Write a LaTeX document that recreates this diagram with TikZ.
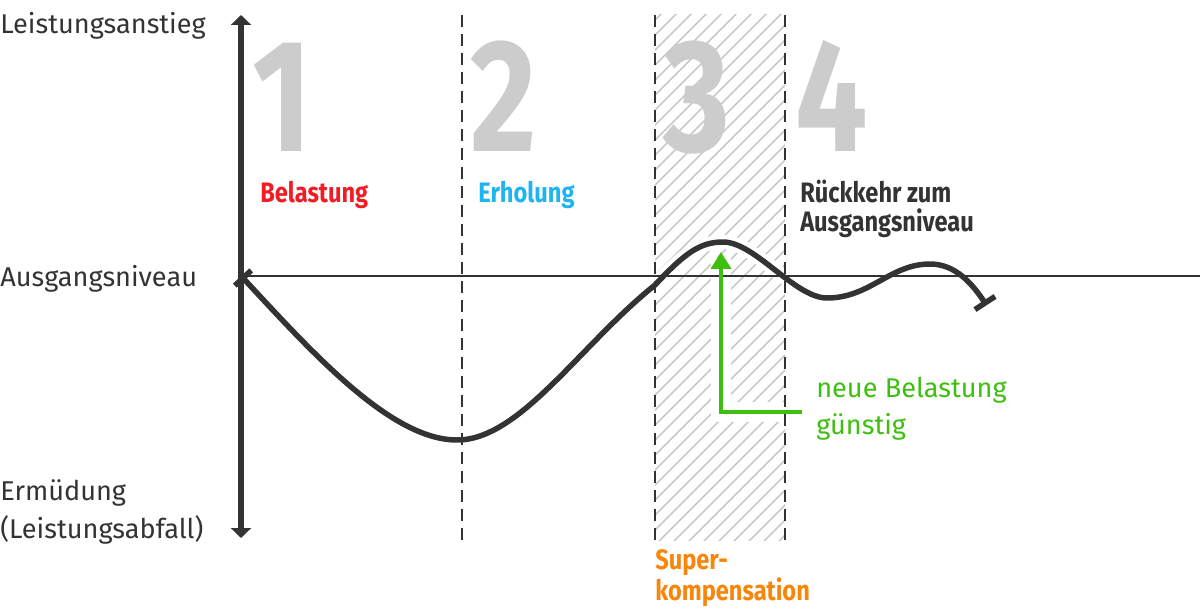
\documentclass[tikz,border=0pt]{standalone}
\usepackage{fontspec}
\setmainfont{Fira Sans}
\newfontfamily\condbold{Fira Sans}[FakeStretch=0.84]
\newfontfamily\numbold{Fira Sans}[FakeStretch=0.8]
\usetikzlibrary{positioning,arrows.meta,calc}
\definecolor{ink}{HTML}{333333}
\definecolor{numgray}{HTML}{CCCCCC}
\definecolor{hatchgray}{HTML}{C4C4C4}
\definecolor{loadred}{HTML}{F21D24}
\definecolor{restblue}{HTML}{1EB4F0}
\definecolor{superorange}{HTML}{F7860B}
\definecolor{goodgreen}{HTML}{3DBF0F}

\begin{document}
\begin{tikzpicture}[x=0.025cm, y=-0.025cm,
    lbl/.style={inner sep=0pt, anchor=base west, text=ink, font=\fontsize{19.3}{26.3}\selectfont},
    phase/.style={inner sep=0pt, anchor=base west, align=left, font=\condbold\bfseries\fontsize{20}{20.6}\selectfont},
    bignum/.style={inner sep=0pt, anchor=base west, text=numgray, font=\numbold\bfseries\fontsize{114}{114}\selectfont},
    dashline/.style={ink, line width=1.4pt, dash pattern=on 8.5pt off 5pt},
    curve/.style={ink, line width=3.9pt},
    halo/.style={white, line width=10pt}]
  \useasboundingbox (0,0) rectangle (1200,610);

  % Superkompensation area
  \begin{scope}
    \clip (655,15) rectangle (785,540);
    \foreach \c in {660,675,...,1340}
      \draw[hatchgray, line width=1pt] (\c-560,560) -- (\c,0);
  \end{scope}

  % Big numbers
  \node[bignum] (n1) at (252,152) {1};
  \node[bignum] (n2) at (470,152) {2};
  \node[bignum] (n3) at (663,152) {3};
  \node[bignum] (n4) at (795,152) {4};

  % Curve
  \coordinate (cs) at (243,278);
  \coordinate (cs1) at (310,350);
  \coordinate (ce1) at (972,283);
  \coordinate (ce) at (985,303);
  \def\curvepath{(cs) .. controls (cs1) and (390,440) .. (457,440)
    .. controls (520,440) and (580,345) .. (655,285)
    .. controls (685,253) and (700,242) .. (723,242)
    .. controls (755,242) and (795,298) .. (827,298)
    .. controls (870,298) and (890,264) .. (930,264)
    .. controls (955,264) and (ce1) .. (ce)}

  % White halos in front of the hatching
  \draw[halo] \curvepath;
  \coordinate (gtip) at (721,252);
  \coordinate (gcorner) at (721,412);
  \coordinate (gend) at (802,412);
  \draw[halo, line width=14pt] (gend) -- (gcorner) -- ($(gtip)+(0,6)$);

  % Axes
  \coordinate (atop) at (241,15);
  \coordinate (abot) at (241,538);
  \coordinate (origin) at (241,276);
  \coordinate (rend) at (1200,276);
  \draw[ink, line width=1.2pt] (origin) -- (rend);
  \draw[ink, line width=3.6pt, {Triangle[width=14pt, length=7pt]}-{Triangle[width=14pt, length=7pt]}] (atop) -- (abot);

  % Phase borders
  \foreach \x in {462,655,785}
    \draw[dashline] (\x,15) -- (\x,540);

  % Performance curve with end ticks
  \draw[curve] \curvepath;
  \draw[curve] ($(cs)!0.28cm!90:(cs1)$) -- ($(cs)!0.28cm!-90:(cs1)$);
  \draw[curve] ($(ce)!0.3cm!90:(ce1)$) -- ($(ce)!0.3cm!-90:(ce1)$);

  % Green arrow
  \draw[goodgreen, line width=3pt, -{Triangle[width=14pt, length=12pt]}] (gend) -- (gcorner) -- (gtip);

  % Left labels
  \node[lbl] (rise) at (0,34) {Leistungsanstieg};
  \node[lbl] (level) at (0,286) {Ausgangsniveau};
  \node[lbl] (tired) at (0,500) {Ermüdung};
  \node[lbl] (drop) at (0,538) {(Leistungsabfall)};

  % Phase labels
  \node[phase, text=loadred] (load) at (260,202) {Belastung};
  \node[phase, text=restblue] (rest) at (478,202) {Erholung};
  \node[phase, text=ink] (back) at (800,231) {Rückkehr zum\\Ausgangsniveau};
  \node[phase, text=superorange, font=\condbold\bfseries\fontsize{20}{19.8}\selectfont] (super) at (655,600) {Super-\\kompensation};
  \node[lbl, text=goodgreen, align=left] (hint) at (816,434) {neue Belastung\\günstig};
\end{tikzpicture}
\end{document}
